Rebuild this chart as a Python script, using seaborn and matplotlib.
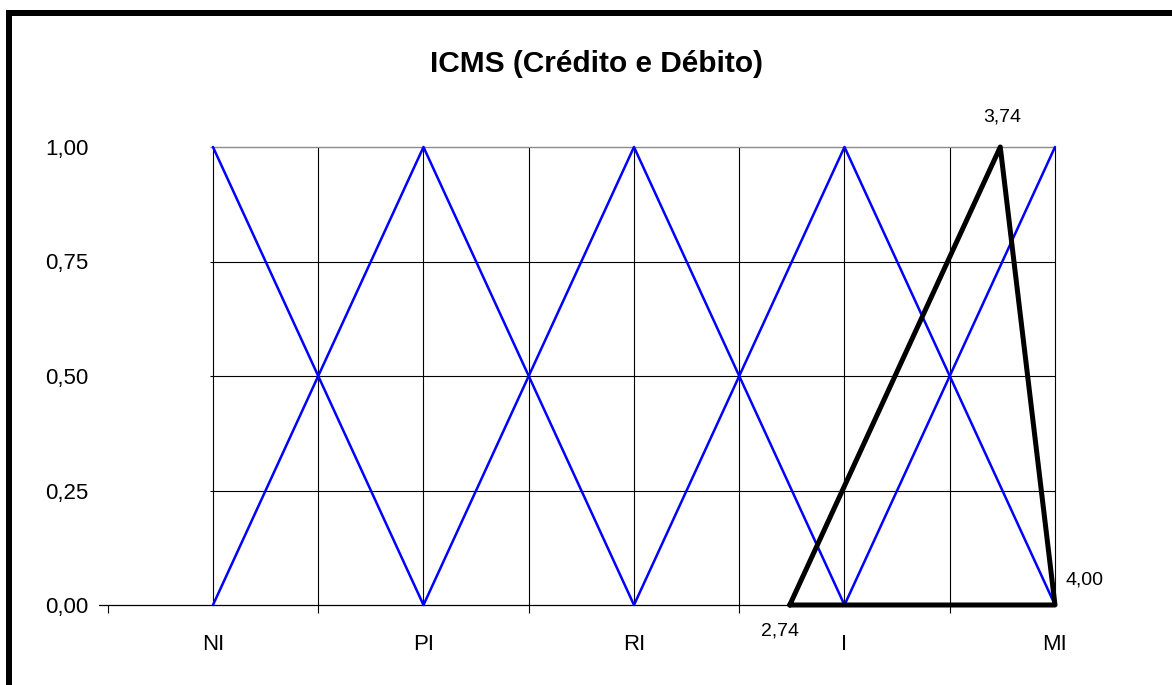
import numpy as np
import pandas as pd
import matplotlib
matplotlib.use("Agg")
import matplotlib.pyplot as plt
from matplotlib.patches import Rectangle
import seaborn as sns

# ---------------------------------------------------------------------------
# data
# ---------------------------------------------------------------------------
categorias = ["NI", "PI", "RI", "I", "MI"]
posicoes = [0, 1, 2, 3, 4]
serie_desce = [1.0, 0.0, 1.0, 0.0, 1.0]
serie_sobe = [0.0, 1.0, 0.0, 1.0, 0.0]

tri_x = [2.74, 3.74, 4.00, 2.74]
tri_y = [0.0, 1.0, 0.0, 0.0]
rotulos_tri = ["2,74", "3,74", "4,00"]

y_ticks = [0.0, 0.25, 0.50, 0.75, 1.00]
titulo = "ICMS (Crédito e Débito)"

# ---------------------------------------------------------------------------
sns.set_style("white")
plt.rcParams["font.family"] = ["Liberation Sans", "DejaVu Sans"]
plt.rcParams["text.color"] = "black"
plt.rcParams["xtick.color"] = "black"
plt.rcParams["ytick.color"] = "black"

W, H = 1172, 685
fig = plt.figure(figsize=(W / 100, H / 100), dpi=100)
ax = fig.add_axes([99.3 / W, 80 / H, 955.7 / W, 458 / H])
ax.set_xlim(-0.54, 4.0)
ax.set_ylim(0, 1)
for s in ax.spines.values():
    s.set_visible(False)

# grid (drawn by hand, Excel style)
ax.vlines(np.arange(0, 4.01, 0.5), 0, 1, color="black", lw=0.8, zorder=1,
          clip_on=False)
ax.hlines([0.25, 0.5, 0.75], -0.012, 4, color="black", lw=0.8, zorder=1,
          clip_on=False)
ax.hlines(1.0, -0.012, 4, color="#8c8c8c", lw=1.0, zorder=1, clip_on=False)
ax.axhline(0, color="black", lw=0.9, zorder=1, clip_on=False)

df = pd.DataFrame({"x": posicoes, "a": serie_desce, "b": serie_sobe})
for col in ["a", "b"]:
    sns.lineplot(data=df, x="x", y=col, ax=ax, color="#0000FF", lw=1.8,
                 sort=False, estimator=None, clip_on=False, zorder=3)

tri = pd.DataFrame({"x": tri_x, "y": tri_y})
sns.lineplot(data=tri, x="x", y="y", ax=ax, color="black", lw=3.6,
             sort=False, estimator=None, clip_on=False, zorder=4)

# data labels
offsets = [(-10, -26), (2, 30), (29, 25)]
for (xv, yv), txt, off in zip(zip(tri_x[:3], tri_y[:3]), rotulos_tri, offsets):
    ax.annotate(txt, (xv, yv), xytext=off, textcoords="offset pixels",
                ha="center", va="center", fontsize=14, color="black")

# axes ticks
ax.set_xticks([-0.5, 0.5, 1.5, 2.5, 3.5])
ax.set_xticklabels([])
ax.tick_params(axis="x", which="major", length=5.8, width=0.8,
               color="black", direction="out", bottom=True)
ax.set_xticks(posicoes, minor=True)
ax.set_xticklabels(categorias, minor=True, fontsize=16)
ax.tick_params(axis="x", which="minor", length=0, pad=21)

ax.set_yticks(y_ticks)
ax.set_yticklabels([f"{v:.2f}".replace(".", ",") for v in y_ticks], fontsize=16)
ax.tick_params(axis="y", length=0, pad=8, left=True)

ax.set_xlabel("")
ax.set_ylabel("")

fig.text(597 / W, 1 - 64 / H, titulo, ha="center", va="center",
         fontsize=21.5, fontweight="bold", color="black")

# outer frame (left and top only)
fig.add_artist(Rectangle((6 / W, 0), 6 / W, 1 - 10 / H, transform=fig.transFigure,
                         color="black", lw=0))
fig.add_artist(Rectangle((6 / W, 1 - 16 / H), 1, 6 / H, transform=fig.transFigure,
                         color="black", lw=0))

fig.savefig("out.png", dpi=100)
